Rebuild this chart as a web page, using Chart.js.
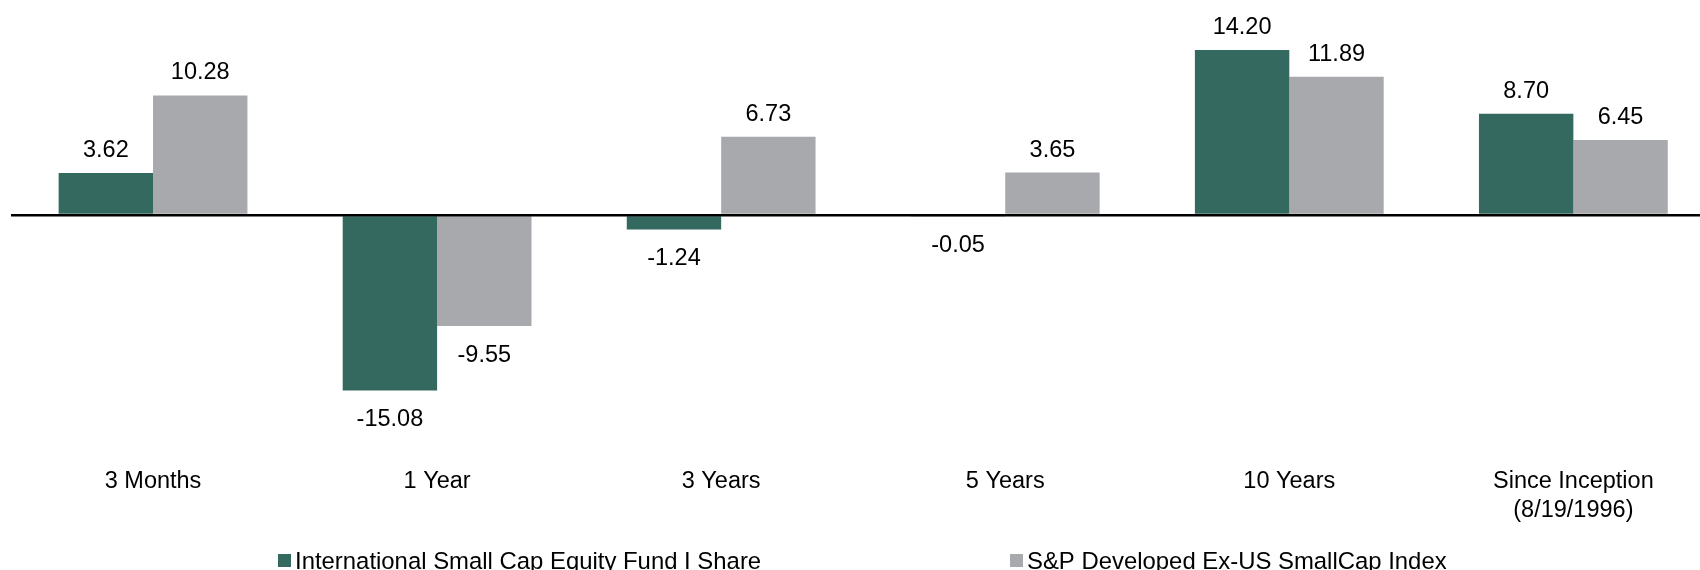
<!DOCTYPE html>
<html>
<head>
<meta charset="utf-8">
<title>Average Annual Total Returns</title>
<script src="https://cdn.jsdelivr.net/npm/chart.js@4"></script>
<style>
  html, body { margin: 0; padding: 0; background: #fff; overflow: hidden; }
  #wrap { width: 1716px; height: 570px; position: relative; }
</style>
</head>
<body>
<div id="wrap"><canvas id="returnsChart"></canvas></div>
<script>
// Return periods and annualised returns (%)
const periods = ['3 Months', '1 Year', '3 Years', '5 Years', '10 Years', ['Since Inception', '(8/19/1996)']];
const fundReturns = [3.62, -15.08, -1.24, -0.05, 14.20, 8.70];
const indexReturns = [10.28, -9.55, 6.73, 3.65, 11.89, 6.45];
const seriesNames = ['International Small Cap Equity Fund I Share', 'S&P Developed Ex-US SmallCap Index'];
const seriesColors = ['#34695f', '#a8a9ad'];

const FONT = 'Arial, "Liberation Sans", sans-serif';
const legendX = [278, 1010];

// Value printed above positive bars, below negative ones
const valueLabels = {
    id: 'valueLabels',
    afterDatasetsDraw(chart) {
        const ctx = chart.ctx;
        ctx.save();
        ctx.font = '23.5px ' + FONT;
        ctx.fillStyle = '#000';
        ctx.textAlign = 'center';
        ctx.textBaseline = 'middle';
        chart.data.datasets.forEach((ds, i) => {
            chart.getDatasetMeta(i).data.forEach((bar, j) => {
                const v = ds.data[j];
                const y = v >= 0 ? bar.y - 22.5 : bar.y + 29.5;
                ctx.fillText(v.toFixed(2), bar.x, y);
            });
        });
        ctx.restore();
    }
};

// Legend row along the bottom edge
const legendRow = {
    id: 'legendRow',
    afterDraw(chart) {
        const ctx = chart.ctx;
        ctx.save();
        ctx.font = '23.9px ' + FONT;
        ctx.textAlign = 'left';
        ctx.textBaseline = 'middle';
        chart.data.datasets.forEach((ds, i) => {
            const x = legendX[i];
            ctx.fillStyle = ds.backgroundColor;
            ctx.fillRect(x, 554, 13, 13);
            ctx.fillStyle = '#000';
            ctx.fillText(ds.label, x + 17, 562.5);
        });
        ctx.restore();
    }
};

const ctx = document.getElementById('returnsChart').getContext('2d');

new Chart(ctx, {
    type: 'bar',
    data: {
        labels: periods,
        datasets: [
            {
                label: seriesNames[0],
                data: fundReturns,
                backgroundColor: seriesColors[0],
                categoryPercentage: 0.6646,
                barPercentage: 1
            },
            {
                label: seriesNames[1],
                data: indexReturns,
                backgroundColor: seriesColors[1],
                categoryPercentage: 0.6646,
                barPercentage: 1
            }
        ]
    },
    options: {
        responsive: true,
        maintainAspectRatio: false,
        animation: false,
        layout: {
            padding: { left: 11, right: 0.6, top: 5.7, bottom: 26.4 }
        },
        plugins: {
            legend: { display: false },
            tooltip: { enabled: false }
        },
        scales: {
            x: {
                grid: { display: false, drawTicks: false },
                border: { display: false },
                ticks: {
                    color: '#000',
                    font: { family: FONT, size: 23.5, lineHeight: '29px' },
                    padding: 19,
                    maxRotation: 0,
                    autoSkip: false
                }
            },
            y: {
                min: -20,
                max: 18,
                ticks: { display: false, stepSize: 2 },
                border: { display: false },
                grid: {
                    z: 1,
                    drawTicks: false,
                    lineWidth: 2.5,
                    color: (c) => c.tick && c.tick.value === 0 ? '#000' : 'rgba(0,0,0,0)'
                }
            }
        }
    },
    plugins: [valueLabels, legendRow]
});
</script>
</body>
</html>
